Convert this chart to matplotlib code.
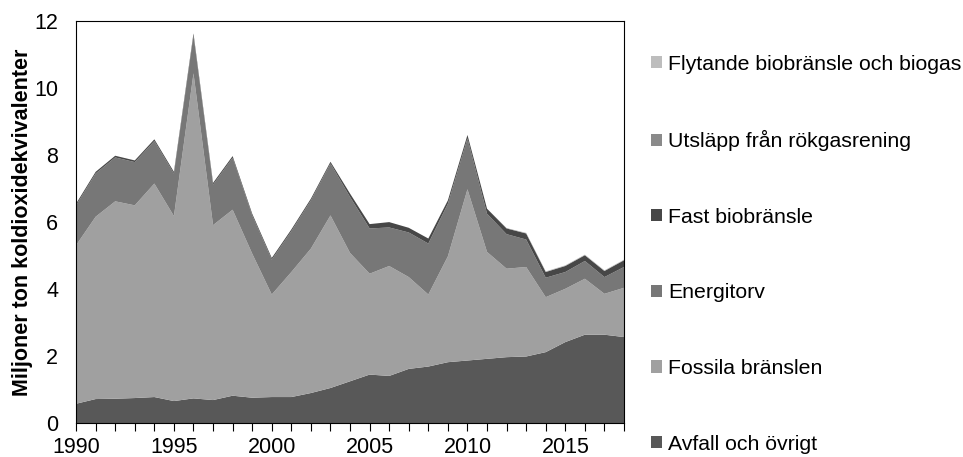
import matplotlib
matplotlib.use("Agg")
import matplotlib.pyplot as plt
import numpy as np

plt.rcParams["font.family"] = ["Liberation Sans", "DejaVu Sans"]

years = list(range(1990, 2019))

avfall = [0.58, 0.72, 0.73, 0.75, 0.78, 0.66, 0.74, 0.69, 0.82, 0.76,
          0.78, 0.78, 0.90, 1.05, 1.25, 1.45, 1.41, 1.62, 1.69, 1.82,
          1.87, 1.92, 1.97, 1.99, 2.12, 2.42, 2.64, 2.64, 2.57]
fossila = [4.73, 5.44, 5.89, 5.75, 6.37, 5.52, 9.70, 5.22, 5.55, 4.30,
           3.06, 3.73, 4.31, 5.15, 3.83, 3.01, 3.28, 2.74, 2.15, 3.16,
           5.11, 3.19, 2.64, 2.67, 1.64, 1.59, 1.67, 1.22, 1.47]
energitorv = [1.19, 1.29, 1.31, 1.29, 1.27, 1.27, 1.13, 1.21, 1.55, 1.14,
              1.04, 1.22, 1.44, 1.55, 1.67, 1.35, 1.15, 1.33, 1.52, 1.57,
              1.52, 1.14, 1.03, 0.82, 0.58, 0.50, 0.53, 0.50, 0.62]
fast_bio = [0.05, 0.05, 0.05, 0.05, 0.05, 0.05, 0.06, 0.05, 0.05, 0.05,
            0.05, 0.05, 0.05, 0.05, 0.10, 0.13, 0.16, 0.14, 0.15, 0.10,
            0.10, 0.15, 0.17, 0.18, 0.17, 0.18, 0.17, 0.18, 0.20]
rokgas = [0.0, 0.0, 0.0, 0.0, 0.0, 0.0, 0.0, 0.0, 0.0, 0.0,
          0.0, 0.0, 0.0, 0.0, 0.0, 0.0, 0.0, 0.0, 0.0, 0.0,
          0.0, 0.0, 0.01, 0.01, 0.01, 0.01, 0.01, 0.01, 0.01]
flytande = [0.0, 0.0, 0.0, 0.0, 0.0, 0.0, 0.0, 0.0, 0.0, 0.0,
            0.0, 0.0, 0.0, 0.0, 0.0, 0.0, 0.0, 0.0, 0.0, 0.0,
            0.0, 0.0, 0.0, 0.01, 0.01, 0.01, 0.01, 0.01, 0.01]

labels = ["Avfall och övrigt", "Fossila bränslen", "Energitorv",
          "Fast biobränsle", "Utsläpp från rökgasrening",
          "Flytande biobränsle och biogas"]
colors = ["#585858", "#a0a0a0", "#777777", "#474747", "#8a8a8a", "#bdbdbd"]

fig = plt.figure(figsize=(9.63, 4.57), dpi=100)
ax = fig.add_axes([0.079, 0.074, 0.569, 0.88])

polys = ax.stackplot(years, avfall, fossila, energitorv, fast_bio, rokgas, flytande,
                     colors=colors, labels=labels, linewidth=0)

ax.set_xlim(1990, 2018)
ax.set_ylim(0, 12)
ax.set_yticks(np.arange(0, 13, 2))
ax.set_xticks(range(1990, 2019, 5))
ax.set_xticks(years, minor=True)
ax.tick_params(axis="x", which="both", direction="out", length=6, width=0.8,
               labelsize=15.5, pad=4)
ax.tick_params(axis="y", length=0, labelsize=15.5, pad=13)
for s in ax.spines.values():
    s.set_linewidth(0.8)
ax.set_ylabel("Miljoner ton koldioxidekvivalenter", fontsize=15.5,
              fontweight="bold", labelpad=1)

handles, labs = ax.get_legend_handles_labels()
leg = fig.legend(handles[::-1], labs[::-1], loc="upper left",
                 bbox_to_anchor=(0.676, 0.88), frameon=False, fontsize=15.3,
                 handlelength=0.5, handleheight=0.5, handletextpad=0.3,
                 labelspacing=2.66, borderaxespad=0, borderpad=0)

fig.savefig("out.png", dpi=100)
